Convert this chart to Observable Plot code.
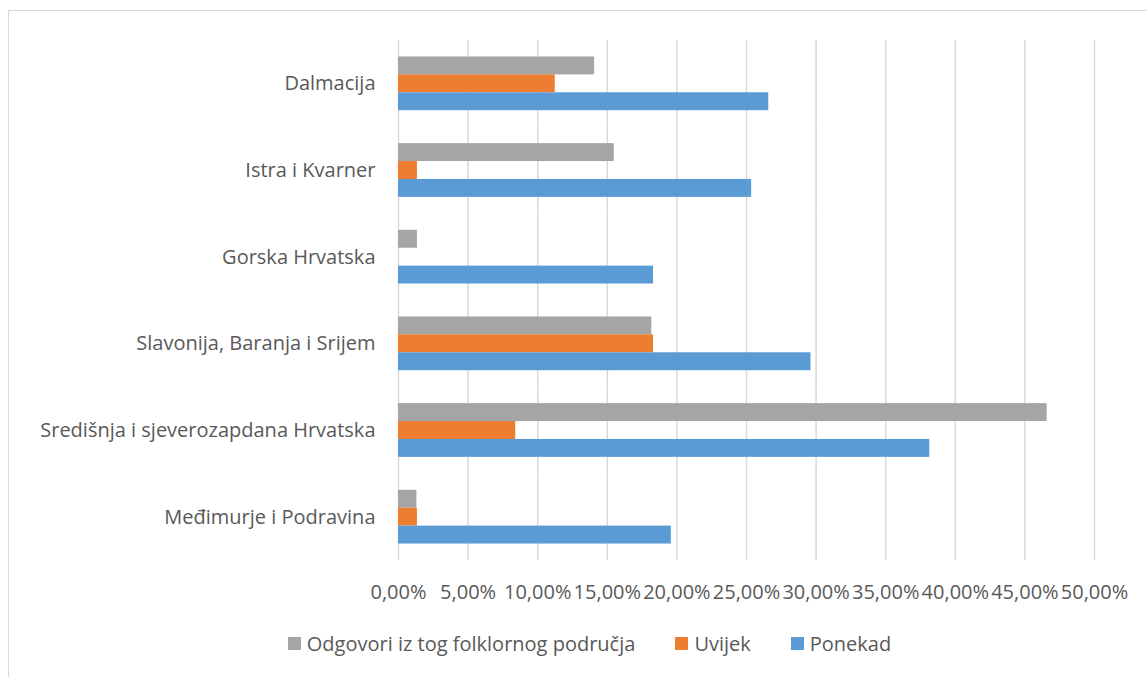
<!DOCTYPE html>
<html>
<head>
<meta charset="utf-8">
<script src="https://cdn.jsdelivr.net/npm/d3@7"></script>
<script src="https://cdn.jsdelivr.net/npm/@observablehq/plot@0.6"></script>
<style>
  html, body { margin: 0; padding: 0; background: #fff; }
  body { position: relative; width: 1147px; height: 677px; overflow: hidden; font-family: "Open Sans", sans-serif; }
  #frame { position: absolute; left: 8px; top: 10px; width: 1170px; height: 700px; border: 1px solid #d9d9d9; box-sizing: border-box; }
  #chart { position: absolute; left: 0; top: 0; }
  #legend { position: absolute; left: 8px; top: 630px; width: 1163px; display: flex; justify-content: center; gap: 40px; color: #595959; font-size: 20px; }
  #legend .item { display: flex; align-items: center; gap: 6px; }
  #legend .sw { width: 13px; height: 13px; display: inline-block; }
</style>
</head>
<body>
<div id="frame"></div>
<div id="chart"></div>
<div id="legend"></div>
<script>
const regions = ["Dalmacija", "Istra i Kvarner", "Gorska Hrvatska", "Slavonija, Baranja i Srijem", "Središnja i sjeverozapdana Hrvatska", "Međimurje i Podravina"];
const series = ["Odgovori iz tog folklornog područja", "Uvijek", "Ponekad"];
const colors = ["#A5A5A5", "#ED7D31", "#5B9BD5"];
const odgovori = [14.09, 15.5, 1.36, 18.2, 46.6, 1.32];
const uvijek = [11.26, 1.36, 0, 18.32, 8.42, 1.36];
const ponekad = [26.6, 25.37, 18.32, 29.63, 38.17, 19.6];
const xTicks = [0, 5, 10, 15, 20, 25, 30, 35, 40, 45, 50];

const valuesBySeries = [odgovori, uvijek, ponekad];
const data = [];
regions.forEach((r, i) => {
  series.forEach((s, j) => data.push({region: r, series: s, value: valuesBySeries[j][i]}));
});

const fmt = d => d.toFixed(2).replace(".", ",") + "%";

const chart = Plot.plot({
  width: 1147,
  height: 620,
  marginTop: 40,
  marginBottom: 60,
  marginLeft: 398,
  marginRight: 53,
  style: {fontFamily: "Open Sans", fontSize: "20px", color: "#595959", background: "transparent"},
  x: {domain: [0, 50], axis: null, label: null},
  y: {domain: series, paddingInner: 0, paddingOuter: 0.92, round: false, axis: null},
  fy: {domain: regions, padding: 0, round: false, label: null},
  color: {domain: series, range: colors},
  marks: [
    Plot.gridX(xTicks, {stroke: "#d9d9d9", strokeOpacity: 1, strokeWidth: 1.5}),
    Plot.barX(data, {x: "value", y: "series", fy: "region", fill: "series", insetTop: 0, insetBottom: 0}),
    Plot.axisX(xTicks, {anchor: "bottom", tickSize: 0, tickPadding: 24, tickFormat: fmt, fontSize: 20, label: null}),
    Plot.axisFy({anchor: "left", tickSize: 0, tickPadding: 23, label: null, fontSize: 20})
  ]
});
document.getElementById("chart").appendChild(chart);

const legend = document.getElementById("legend");
series.forEach((s, j) => {
  const item = document.createElement("div");
  item.className = "item";
  const sw = document.createElement("span");
  sw.className = "sw";
  sw.style.background = colors[j];
  const t = document.createElement("span");
  t.textContent = s;
  item.appendChild(sw);
  item.appendChild(t);
  legend.appendChild(item);
});
</script>
</body>
</html>
